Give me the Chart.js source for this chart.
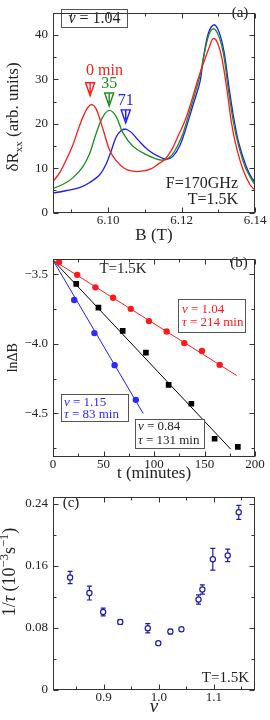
<!DOCTYPE html>
<html>
<head>
<meta charset="utf-8">
<script src="https://cdn.jsdelivr.net/npm/chart.js@4.4.1/dist/chart.umd.min.js"></script>
<style>
  body { margin: 0; background: #fff; width: 270px; height: 720px; position: relative; overflow: hidden; }
  canvas { position: absolute; left: 0; }
</style>
</head>
<body>
<canvas id="chartA" width="270" height="246" style="top:0"></canvas>
<canvas id="chartB" width="270" height="238" style="top:246px"></canvas>
<canvas id="chartC" width="270" height="236" style="top:484px"></canvas>
<script>
// ---- panel (a): dR_xx vs B, three times
const bRed = [6.085, 6.0867, 6.0885, 6.0904, 6.0922, 6.094, 6.0954, 6.0967, 6.0986, 6.1004, 6.1022, 6.1045, 6.1067, 6.1091, 6.1118, 6.1136, 6.1155, 6.1173, 6.1191, 6.1209, 6.1227, 6.1245, 6.1259, 6.1277, 6.1286, 6.1296, 6.1309, 6.1323, 6.1336, 6.135, 6.1368, 6.1386, 6.14];
const rRed = [7.0, 8.8, 11.7, 15.2, 19.5, 23.0, 24.3, 23.4, 18.8, 14.1, 11.7, 9.9, 9.3, 9.3, 9.9, 10.9, 12.0, 14.1, 17.3, 20.6, 25.1, 30.1, 33.5, 37.6, 39.2, 38.6, 35.1, 28.0, 20.2, 14.5, 9.5, 6.3, 5.0];
const bGreen = [6.085, 6.0876, 6.0904, 6.0931, 6.0949, 6.0967, 6.0986, 6.1004, 6.1022, 6.104, 6.1067, 6.11, 6.1127, 6.1146, 6.1164, 6.1181, 6.12, 6.1218, 6.1236, 6.125, 6.1259, 6.1273, 6.1286, 6.13, 6.1314, 6.1327, 6.1341, 6.1355, 6.1373, 6.1391, 6.14];
const rGreen = [5.4, 6.3, 7.8, 10.3, 13.1, 17.7, 21.6, 23.0, 21.6, 18.0, 15.0, 13.2, 12.2, 11.8, 12.2, 13.8, 17.0, 21.6, 26.6, 30.8, 34.5, 39.7, 41.4, 40.0, 35.8, 28.0, 20.5, 15.2, 10.3, 7.4, 6.3];
const bBlue = [6.085, 6.0885, 6.0922, 6.0949, 6.0977, 6.0995, 6.1008, 6.1022, 6.1035, 6.1048, 6.1064, 6.1082, 6.1109, 6.1136, 6.1159, 6.1177, 6.1196, 6.1214, 6.1232, 6.125, 6.1259, 6.1273, 6.1288, 6.1302, 6.1316, 6.1329, 6.1343, 6.1356, 6.1375, 6.1391, 6.14];
const rBlue = [4.4, 4.9, 5.6, 6.7, 8.5, 11.0, 13.8, 17.0, 18.4, 18.8, 18.0, 16.3, 14.1, 12.7, 12.0, 12.7, 15.2, 19.5, 24.4, 29.4, 34.5, 40.4, 42.3, 40.7, 36.1, 28.3, 20.9, 15.6, 10.6, 7.8, 6.9];
const arrowLabels = ["0 min", "35", "71"];
const arrowB = [6.0951, 6.1003, 6.1048];
const arrowTip = [26.3, 24.0, 20.2];
const aXMajor = [6.10, 6.12, 6.14];
const aXMinor = [6.09, 6.11, 6.13];
const aYMajor = [0, 10, 20, 30, 40];
const aYMinor = [5, 15, 25, 35];

// ---- panel (b): ln dB vs t
const tRed = [6, 24, 42, 59.5, 77, 95, 112.5, 130, 147.5, 165];
const lnRed = [-3.414, -3.505, -3.595, -3.67, -3.749, -3.837, -3.912, -3.995, -4.051, -4.151];
const tBlack = [23, 45, 69, 92, 114.5, 137, 160, 183];
const lnBlack = [-3.57, -3.74, -3.907, -4.063, -4.295, -4.43, -4.681, -4.74];
const tBlue = [21, 41, 61, 82];
const lnBlue = [-3.686, -3.923, -4.153, -4.402];
const fitRedT = [0, 182], fitRedLn = [-3.40, -4.228];
const fitBlackT = [0, 176], fitBlackLn = [-3.40, -4.756];
const fitBlueT = [0, 89.3], fitBlueLn = [-3.40, -4.50];
const bXMajor = [0, 50, 100, 150, 200];
const bXMinor = [25, 75, 125, 175];
const bYMajor = [-3.5, -4.0, -4.5];
const bYMinor = [-3.75, -4.25, -4.75];

// ---- panel (c): 1/tau vs nu
const nu = [0.839, 0.874, 0.899, 0.930, 0.980, 0.999, 1.021, 1.041, 1.072, 1.079, 1.098, 1.125, 1.145];
const rate = [0.145, 0.125, 0.1006, 0.0878, 0.0795, 0.0604, 0.0753, 0.0782, 0.1167, 0.1296, 0.1685, 0.1735, 0.229];
const rateErr = [0.008, 0.009, 0.005, 0.003, 0.006, 0.002, 0.003, 0.002, 0.006, 0.006, 0.014, 0.008, 0.009];
const cXMajor = [0.9, 1.0, 1.1];
const cXMinor = [0.85, 0.95, 1.05, 1.15];
const cYMajor = [0, 0.08, 0.16, 0.24];
const cYMinor = [0.04, 0.12, 0.20];

const FONT = "'Liberation Serif', serif";
Chart.defaults.font.family = FONT;
Chart.defaults.color = "#222";

const pts = (xs, ys) => xs.map((x, i) => ({ x, y: ys[i] }));

// text with mixed italic / sub / superscript pieces: [text, italic, shift(em), scale]
function rich(ctx, segs, x, y, size, align, rot, color) {
  ctx.save();
  ctx.translate(x, y);
  if (rot) ctx.rotate(rot);
  const fontOf = s => (s[1] ? "italic " : "") + (size * (s[3] || 1)) + "px " + FONT;
  let w = 0;
  segs.forEach(s => { ctx.font = fontOf(s); w += ctx.measureText(s[0]).width; });
  let cx = align === "center" ? -w / 2 : align === "right" ? -w : 0;
  ctx.fillStyle = color || "#222";
  ctx.textBaseline = "middle";
  ctx.textAlign = "left";
  segs.forEach(s => {
    ctx.font = fontOf(s);
    ctx.fillText(s[0], cx, (s[2] || 0) * size);
    cx += ctx.measureText(s[0]).width;
  });
  ctx.restore();
}

function box(ctx, x, y, w, h) {
  ctx.save();
  ctx.fillStyle = "#fff";
  ctx.strokeStyle = "#555";
  ctx.lineWidth = 1;
  ctx.fillRect(x, y, w, h);
  ctx.strokeRect(x + 0.5, y + 0.5, w, h);
  ctx.restore();
}

// closed frame with inward ticks on all four sides
const framePlugin = {
  id: "frame",
  afterDraw(chart, args, opts) {
    const { ctx, chartArea: a, scales: { x, y } } = chart;
    ctx.save();
    ctx.strokeStyle = "#333";
    ctx.lineWidth = 1;
    const L = Math.round(a.left) + 0.5, R = Math.round(a.right) - 0.5;
    const T = Math.round(a.top) + 0.5, B = Math.round(a.bottom) - 0.5;
    ctx.strokeRect(L, T, R - L, B - T);
    ctx.beginPath();
    const xt = (v, len) => {
      const p = Math.round(x.getPixelForValue(v)) + 0.5;
      ctx.moveTo(p, B); ctx.lineTo(p, B - len);
      ctx.moveTo(p, T); ctx.lineTo(p, T + len);
    };
    const yt = (v, len) => {
      const p = Math.round(y.getPixelForValue(v)) + 0.5;
      ctx.moveTo(L, p); ctx.lineTo(L + len, p);
      ctx.moveTo(R, p); ctx.lineTo(R - len, p);
    };
    opts.xMajor.forEach(v => xt(v, 5));
    opts.xMinor.forEach(v => xt(v, 3));
    opts.yMajor.forEach(v => yt(v, 5));
    opts.yMinor.forEach(v => yt(v, 3));
    ctx.stroke();
    ctx.restore();
  }
};
Chart.register(framePlugin);

function axis(o) {
  return {
    type: "linear",
    min: o.min, max: o.max,
    bounds: "data",
    grid: { display: false, drawTicks: false },
    border: { display: false },
    afterBuildTicks: s => { s.ticks = o.major.map(v => ({ value: v })); },
    afterFit: s => { if (o.width) s.width = o.width; if (o.height) s.height = o.height; },
    ticks: {
      autoSkip: false, maxRotation: 0, padding: o.pad,
      color: "#222", font: { size: 13 },
      callback: v => o.fmt(v)
    },
    title: {
      display: !!o.title, text: o.title || "", color: "#222",
      font: { size: o.titleSize || 16, style: o.titleStyle || "normal" },
      padding: o.titlePad || { top: 0, bottom: 0 }
    }
  };
}

// ================= (a)
new Chart(document.getElementById("chartA"), {
  type: "scatter",
  data: {
    datasets: [
      { data: pts(bRed, rRed), borderColor: "#ff1a1a" },
      { data: pts(bGreen, rGreen), borderColor: "#1e8c1e" },
      { data: pts(bBlue, rBlue), borderColor: "#1a1aff" }
    ].map(d => Object.assign(d, { showLine: true, pointRadius: 0, borderWidth: 1.3, tension: 0.35, fill: false }))
  },
  options: {
    responsive: false, animation: false, events: [],
    layout: { padding: { top: 1, right: 15, left: 0, bottom: 0 } },
    plugins: {
      legend: { display: false }, tooltip: { enabled: false },
      frame: { xMajor: aXMajor, xMinor: aXMinor, yMajor: aYMajor, yMinor: aYMinor }
    },
    scales: {
      x: axis({ min: 6.085, max: 6.14, major: aXMajor, fmt: v => v.toFixed(2), pad: 0, height: 33.5, title: "B (T)", titleSize: 17 }),
      y: axis({ min: 0, max: 45, major: aYMajor, fmt: v => String(v), pad: 5, width: 53 })
    }
  },
  plugins: [{
    id: "annA",
    afterDatasetsDraw(chart) {
      const { ctx, scales: { x, y } } = chart;
      const cols = ["#ff1a1a", "#1e8c1e", "#1a1aff"];
      arrowLabels.forEach((lab, i) => {
        const px = x.getPixelForValue(arrowB[i]), py = y.getPixelForValue(arrowTip[i]);
        ctx.save();
        ctx.strokeStyle = cols[i];
        ctx.lineWidth = 1.4;
        ctx.beginPath();
        ctx.moveTo(px - 4.5, py - 13); ctx.lineTo(px + 4.5, py - 13); ctx.lineTo(px, py); ctx.closePath();
        ctx.moveTo(px, py - 13); ctx.lineTo(px, py - 3);
        ctx.stroke();
        ctx.font = "16px " + FONT;
        ctx.fillStyle = cols[i];
        ctx.textBaseline = "middle";
        if (i === 0) {
          ctx.textAlign = "left";
          ctx.fillText(lab, px - ctx.measureText("0").width / 2, py - 25);
        } else {
          ctx.textAlign = "center";
          ctx.fillText(lab, px, py - 22);
        }
        ctx.restore();
      });
      box(ctx, 61, 9, 66, 18);
      rich(ctx, [["ν", true], [" = 1.04"]], 94.5, 18.5, 16, "center");
      rich(ctx, [["(a)"]], 240, 13, 15, "center");
      rich(ctx, [["F=170GHz"]], 238, 184, 16, "right");
      rich(ctx, [["T=1.5K"]], 238, 200, 16, "right");
      rich(ctx, [["δR"], ["xx", false, 0.3, 0.65], [" (arb. units)"]], 14, 117, 17, "center", -Math.PI / 2);
    }
  }]
});

// ================= (b)
const lineDs = (xs, ys, c) => ({ data: pts(xs, ys), showLine: true, pointRadius: 0, borderColor: c, borderWidth: 1, order: 2 });
const markDs = (xs, ys, c, style, r) => ({ data: pts(xs, ys), showLine: false, pointStyle: style, pointRadius: r, backgroundColor: c, borderColor: c, borderWidth: 0, order: 1 });
new Chart(document.getElementById("chartB"), {
  type: "scatter",
  data: {
    datasets: [
      lineDs(fitRedT, fitRedLn, "#ff2020"),
      lineDs(fitBlackT, fitBlackLn, "#000"),
      lineDs(fitBlueT, fitBlueLn, "#2020ff"),
      markDs(tRed, lnRed, "#ff1a1a", "circle", 3.2),
      markDs(tBlack, lnBlack, "#000", "rect", 4),
      markDs(tBlue, lnBlue, "#2a2aff", "circle", 3.2)
    ]
  },
  options: {
    responsive: false, animation: false, events: [],
    layout: { padding: { top: 7, right: 15, left: 0, bottom: 0 } },
    plugins: {
      legend: { display: false }, tooltip: { enabled: false },
      frame: { xMajor: bXMajor, xMinor: bXMinor, yMajor: bYMajor, yMinor: bYMinor }
    },
    scales: {
      x: axis({ min: 0, max: 200, major: bXMajor, fmt: v => String(v), pad: 0, height: 27.3, title: "t (minutes)", titleSize: 17 }),
      y: axis({ min: -4.81, max: -3.39, major: bYMajor, fmt: v => v.toFixed(1).replace("-", "−"), pad: 5, width: 53, title: "lnΔB", titleSize: 14, titlePad: { top: 4.5, bottom: 0 } })
    }
  },
  plugins: [{
    id: "annB",
    afterDatasetsDraw(chart) {
      const ctx = chart.ctx;
      rich(ctx, [["T=1.5K"]], 123, 23, 15, "center");
      rich(ctx, [["(b)"]], 239, 17, 15, "center");
      box(ctx, 178, 53, 67, 33);
      rich(ctx, [["ν", true], [" = 1.04"]], 182, 64, 13, "left", 0, "#ff1a1a");
      rich(ctx, [["τ", true], [" = 214 min"]], 182, 77, 13, "left", 0, "#ff1a1a");
      box(ctx, 61, 148, 67, 27);
      rich(ctx, [["ν", true], [" = 1.15"]], 64, 156.7, 13, "left", 0, "#2a2aff");
      rich(ctx, [["τ", true], [" = 83 min"]], 64, 169, 13, "left", 0, "#2a2aff");
      box(ctx, 135, 173, 69, 29);
      rich(ctx, [["ν", true], [" = 0.84"]], 138, 180.7, 13, "left", 0, "#222");
      rich(ctx, [["τ", true], [" = 131 min"]], 138, 194.5, 13, "left", 0, "#222");
    }
  }]
});

// ================= (c)
new Chart(document.getElementById("chartC"), {
  type: "scatter",
  data: {
    datasets: [{
      data: pts(nu, rate), pointStyle: "circle", pointRadius: 2.6,
      borderColor: "#1c1ca8", backgroundColor: "#fff", borderWidth: 1.2
    }]
  },
  options: {
    responsive: false, animation: false, events: [],
    layout: { padding: { top: 5.5, right: 15, left: 0, bottom: 0 } },
    plugins: {
      legend: { display: false }, tooltip: { enabled: false },
      frame: { xMajor: cXMajor, xMinor: cXMinor, yMajor: cYMajor, yMinor: cYMinor }
    },
    scales: {
      x: axis({ min: 0.808, max: 1.1745, major: cXMajor, fmt: v => v.toFixed(1), pad: 0, height: 30, title: "ν", titleSize: 19, titleStyle: "italic", titlePad: { top: 0, bottom: 2 } }),
      y: axis({ min: 0, max: 0.249, major: cYMajor, fmt: v => (v === 0 ? "0" : v.toFixed(2)), pad: 5, width: 53 })
    }
  },
  plugins: [{
    id: "errC",
    beforeDatasetsDraw(chart) {
      const { ctx, scales: { x, y } } = chart;
      ctx.save();
      ctx.strokeStyle = "#1c1ca8";
      ctx.lineWidth = 1.2;
      ctx.beginPath();
      nu.forEach((n, i) => {
        const px = x.getPixelForValue(n);
        const top = y.getPixelForValue(rate[i] + rateErr[i]);
        const bot = y.getPixelForValue(rate[i] - rateErr[i]);
        ctx.moveTo(px, top); ctx.lineTo(px, bot);
        ctx.moveTo(px - 2.5, top); ctx.lineTo(px + 2.5, top);
        ctx.moveTo(px - 2.5, bot); ctx.lineTo(px + 2.5, bot);
      });
      ctx.stroke();
      ctx.restore();
    },
    afterDatasetsDraw(chart) {
      const ctx = chart.ctx;
      rich(ctx, [["(c)"]], 71, 19, 15, "center");
      rich(ctx, [["T=1.5K"]], 249, 194, 15, "right");
      rich(ctx, [["1/"], ["τ", true], [" (10"], ["−3", false, -0.3, 0.7], ["s"], ["−1", false, -0.3, 0.7], [")"]], 10, 88, 18, "center", -Math.PI / 2);
    }
  }]
});
</script>
</body>
</html>
